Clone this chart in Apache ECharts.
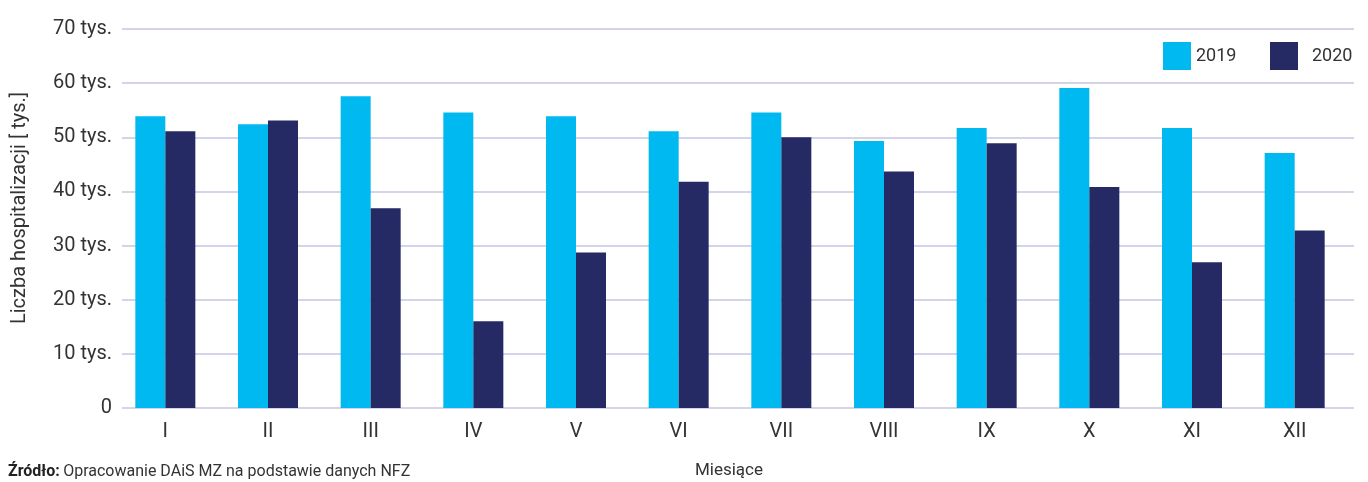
<!DOCTYPE html>
<html>
<head>
<meta charset="utf-8">
<script src="https://cdn.jsdelivr.net/npm/echarts@6/dist/echarts.min.js"></script>
<style>
html,body{margin:0;padding:0;background:#fff;}
#chart{width:1368px;height:482px;}
</style>
</head>
<body>
<div id="chart"></div>
<script>
const months = ['I','II','III','IV','V','VI','VII','VIII','IX','X','XI','XII'];
const values2019 = [53.9, 52.4, 57.6, 54.6, 53.9, 51.1, 54.6, 49.3, 51.7, 59.1, 51.7, 47.1];
const values2020 = [51.1, 53.1, 36.9, 16.0, 28.7, 41.8, 50.0, 43.7, 48.9, 40.8, 26.9, 32.8];
const yTicks = [0, 10, 20, 30, 40, 50, 60, 70];
const seriesNames = ['2019', '2020'];

const FONT = 'Roboto, "Noto Sans", sans-serif';
const TXT = '#333333';
const GRIDC = '#d3d3e9';

const chart = echarts.init(document.getElementById('chart'), null, {renderer: 'canvas'});
chart.setOption({
  animation: false,
  textStyle: {fontFamily: FONT},
  grid: [
    {left: 122, right: 14, top: 29, height: 379, containLabel: false},
    {left: 114, right: 22, top: 29, height: 379, containLabel: false}
  ],
  xAxis: [
    {gridIndex: 0, type: 'value', show: false, min: 0, max: 1},
    {gridIndex: 1, type: 'category', data: months,
      axisLine: {show: false}, axisTick: {show: false},
      axisLabel: {color: TXT, fontSize: 20, margin: 14, fontFamily: FONT}}
  ],
  yAxis: [
    {gridIndex: 0, type: 'value', min: yTicks[0], max: yTicks[yTicks.length-1], interval: 10,
      axisLine: {show: false}, axisTick: {show: false},
      axisLabel: {color: TXT, fontSize: 20, margin: 10, fontFamily: FONT,
        formatter: v => v === 0 ? '0' : v + ' tys.'},
      splitLine: {show: true, lineStyle: {color: GRIDC, width: 2}}},
    {gridIndex: 1, type: 'value', min: 0, max: 70, show: false, splitLine: {show: false}}
  ],
  legend: [
    {data: [seriesNames[0]], left: 1163, top: 42, padding: 0, itemWidth: 28, itemHeight: 28, icon: 'rect',
      textStyle: {color: TXT, fontSize: 18, fontFamily: FONT, padding: [0,0,0,0]}, itemGap: 0},
    {data: [seriesNames[1]], left: 1270, top: 42, padding: 0, itemWidth: 28, itemHeight: 28, icon: 'rect',
      textStyle: {color: TXT, fontSize: 18, fontFamily: FONT, padding: [0,0,0,9]}, itemGap: 0}
  ],
  series: [
    {name: seriesNames[0], type: 'bar', xAxisIndex: 1, yAxisIndex: 1, data: values2019,
      barWidth: 30, barGap: '0%', itemStyle: {color: '#00b9f1'}},
    {name: seriesNames[1], type: 'bar', xAxisIndex: 1, yAxisIndex: 1, data: values2020,
      barWidth: 30, barGap: '0%', itemStyle: {color: '#252a64'}}
  ],
  graphic: [
    {type: 'text', x: 20, y: 208, rotation: Math.PI/2,
      style: {text: 'Liczba hospitalizacji [ tys.]', fill: TXT, font: '20px ' + FONT,
        textAlign: 'center', textVerticalAlign: 'middle'}},
    {type: 'text', x: 729, y: 471,
      style: {text: 'Miesiące', fill: TXT, font: '17px ' + FONT,
        textAlign: 'center', textVerticalAlign: 'middle'}},
    {type: 'text', x: 8, y: 472,
      style: {
        text: '{b|Źródło:} {n|Opracowanie DAiS MZ na podstawie danych NFZ}',
        textVerticalAlign: 'middle',
        rich: {
          b: {fontFamily: FONT, fontSize: 16, fontWeight: 'bold', fill: '#222'},
          n: {fontFamily: FONT, fontSize: 16, fill: TXT}
        }
      }}
  ]
});
</script>
</body>
</html>
